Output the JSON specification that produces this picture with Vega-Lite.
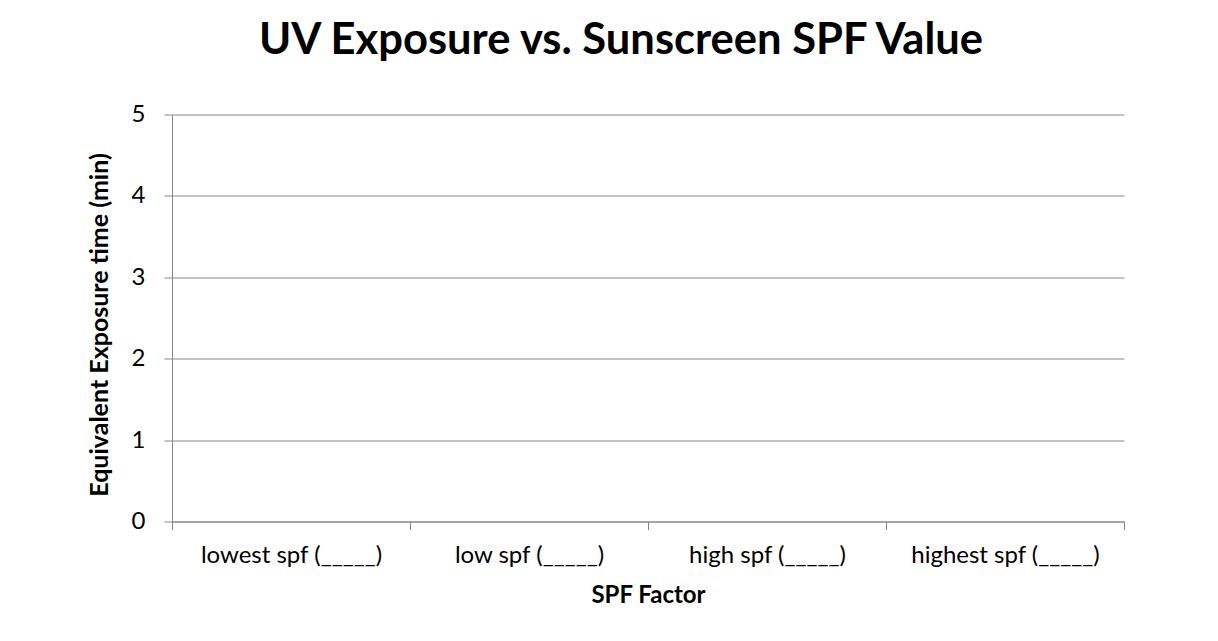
{
  "$schema": "https://vega.github.io/schema/vega-lite/v6.json",
  "autosize": "none",
  "width": 952,
  "height": 407,
  "padding": {"left": 172, "top": 114.5, "right": 94, "bottom": 119.5},
  "background": "white",
  "title": {
    "text": "UV Exposure vs. Sunscreen SPF Value",
    "font": "Lato",
    "fontSize": 43.5,
    "fontWeight": "bold",
    "color": "#000000",
    "anchor": "middle",
    "frame": "group",
    "baseline": "alphabetic",
    "offset": 5,
    "dx": -27
  },
  "data": {
    "values": [
      {"spf": "lowest spf (_____)", "exposure": null},
      {"spf": "low spf (_____)", "exposure": null},
      {"spf": "high spf (_____)", "exposure": null},
      {"spf": "highest spf (_____)", "exposure": null}
    ]
  },
  "mark": {"type": "bar", "color": "#4F81BD"},
  "encoding": {
    "x": {
      "field": "spf",
      "type": "nominal",
      "sort": null,
      "scale": {
        "domain": ["lowest spf (_____)", "low spf (_____)", "high spf (_____)", "highest spf (_____)"],
        "paddingInner": 0,
        "paddingOuter": 0
      },
      "axis": {
        "title": "SPF Factor",
        "labelAngle": 0,
        "labelLimit": 0,
        "tickBand": "extent",
        "tickSize": 8,
        "labelPadding": 33,
        "labelBaseline": "alphabetic",
        "titleBaseline": "alphabetic",
        "titleY": 81,
        "grid": false
      }
    },
    "y": {
      "field": "exposure",
      "type": "quantitative",
      "scale": {"domain": [0, 5], "nice": false, "zero": true},
      "axis": {
        "title": "Equivalent Exposure time (min)",
        "values": [0, 1, 2, 3, 4, 5],
        "tickSize": 8,
        "labelPadding": 19,
        "grid": true,
        "titleBaseline": "alphabetic",
        "titleX": -65,
        "titleY": 210,
        "titlePadding": 0,
        "titleFontSize": 25
      }
    }
  },
  "config": {
    "view": {"stroke": null},
    "axis": {
      "domainColor": "#868686",
      "tickColor": "#868686",
      "gridColor": "#868686",
      "domainWidth": 1,
      "tickWidth": 1,
      "gridWidth": 1,
      "labelFont": "Lato",
      "labelFontSize": 24,
      "labelColor": "#000000",
      "titleFont": "Lato",
      "titleFontSize": 24,
      "titleFontWeight": "bold",
      "titleColor": "#000000"
    }
  }
}
